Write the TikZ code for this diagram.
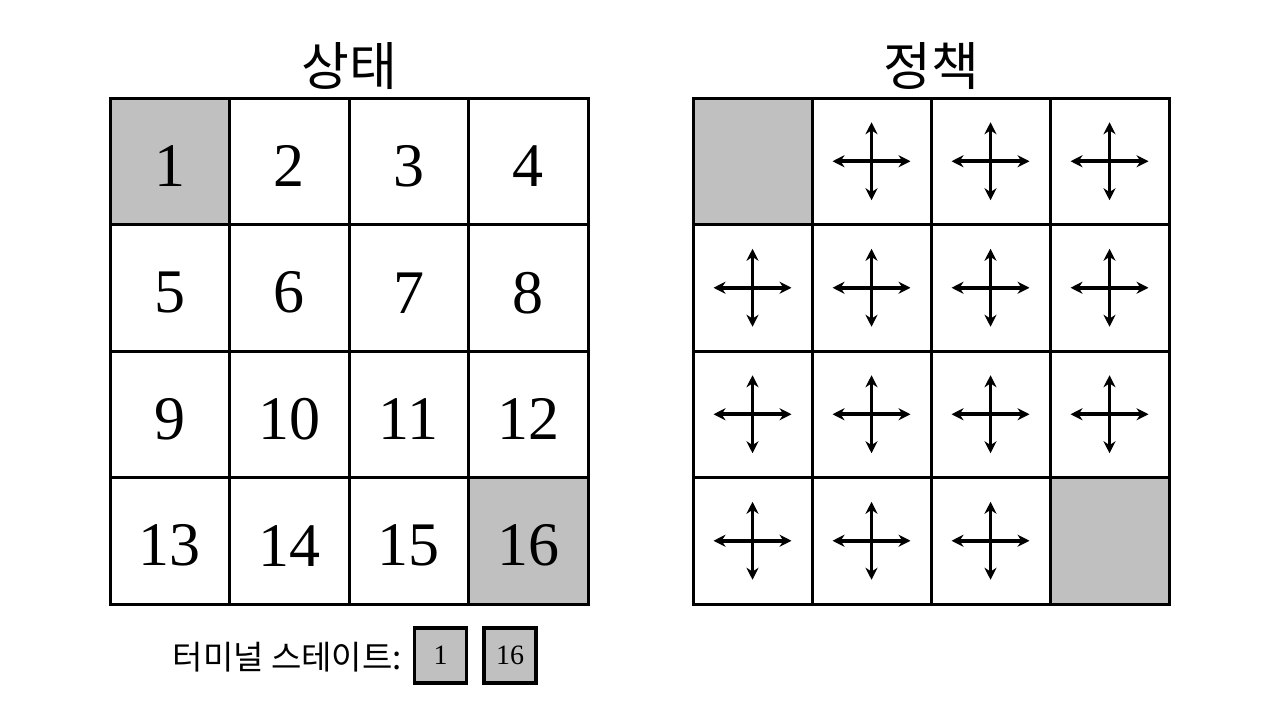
\documentclass[tikz,border=0pt]{standalone}
\usepackage{fontspec}
\setmainfont{Liberation Serif}
\newfontfamily\kr{Noto Sans CJK KR}
\usetikzlibrary{arrows.meta}
\definecolor{cellgray}{HTML}{C0C0C0}
\tikzset{
  x=1pt,y=-1pt,
  cellbox/.style={draw=black,line width=3pt,minimum width=119.5pt,minimum height=126.5pt,inner sep=0pt},
  termcell/.style={cellbox,fill=cellgray},
  numtext/.style={inner sep=0pt,font=\fontsize{62}{62}\selectfont},
  crossarr/.style={line width=3.8pt,{Stealth[length=12pt,width=12pt]}-{Stealth[length=12pt,width=12pt]}},
  legbox/.style={draw=black,line width=3.5pt,fill=cellgray,minimum width=52pt,minimum height=55pt,inner sep=0pt,font=\fontsize{28}{28}\selectfont},
  titletext/.style={font=\kr\fontsize{52}{52}\selectfont}
}
\begin{document}
\begin{tikzpicture}
\useasboundingbox (0,0) rectangle (1280,720);
% titles
\node[titletext] (t1) at (349,66) {상태};
\node[titletext] (t2) at (931,66) {정책};
% left grid
\foreach \r in {0,1,2,3}{
  \foreach \c in {0,1,2,3}{
    \pgfmathtruncatemacro{\n}{\r*4+\c+1}
    \pgfmathsetmacro{\cx}{110+59.75+\c*119.5}
    \pgfmathsetmacro{\cy}{98+63.25+\r*126.5}
    \ifnum\n=1
      \node[termcell] (s\n) at (\cx,\cy) {};
    \else\ifnum\n=16
      \node[termcell] (s\n) at (\cx,\cy) {};
    \else
      \node[cellbox] (s\n) at (\cx,\cy) {};
    \fi\fi
    \node[numtext] (n\n) at ([yshift=-5pt]s\n.center) {\n};
  }
}
% right grid
\foreach \r in {0,1,2,3}{
  \foreach \c in {0,1,2,3}{
    \pgfmathtruncatemacro{\n}{\r*4+\c+1}
    \pgfmathsetmacro{\cx}{693+59.5+\c*119}
    \pgfmathsetmacro{\cy}{98+63.25+\r*126.5}
    \ifnum\n=1
      \node[termcell,minimum width=119pt] (p\n) at (\cx,\cy) {};
    \else\ifnum\n=16
      \node[termcell,minimum width=119pt] (p\n) at (\cx,\cy) {};
    \else
      \node[cellbox,minimum width=119pt] (p\n) at (\cx,\cy) {};
      \draw[crossarr] ([xshift=-39pt]p\n.center) -- ([xshift=39pt]p\n.center);
      \draw[crossarr] ([yshift=39pt]p\n.center) -- ([yshift=-39pt]p\n.center);
    \fi\fi
  }
}
% legend
\node[anchor=east,font=\kr\fontsize{33}{33}\selectfont,inner sep=0pt] (lt) at (402,657) {터미널 스테이트:};
\node[legbox] (l1) at (440.5,655.5) {1};
\node[legbox] (l2) at (510,655.5) {16};
\end{tikzpicture}
\end{document}
